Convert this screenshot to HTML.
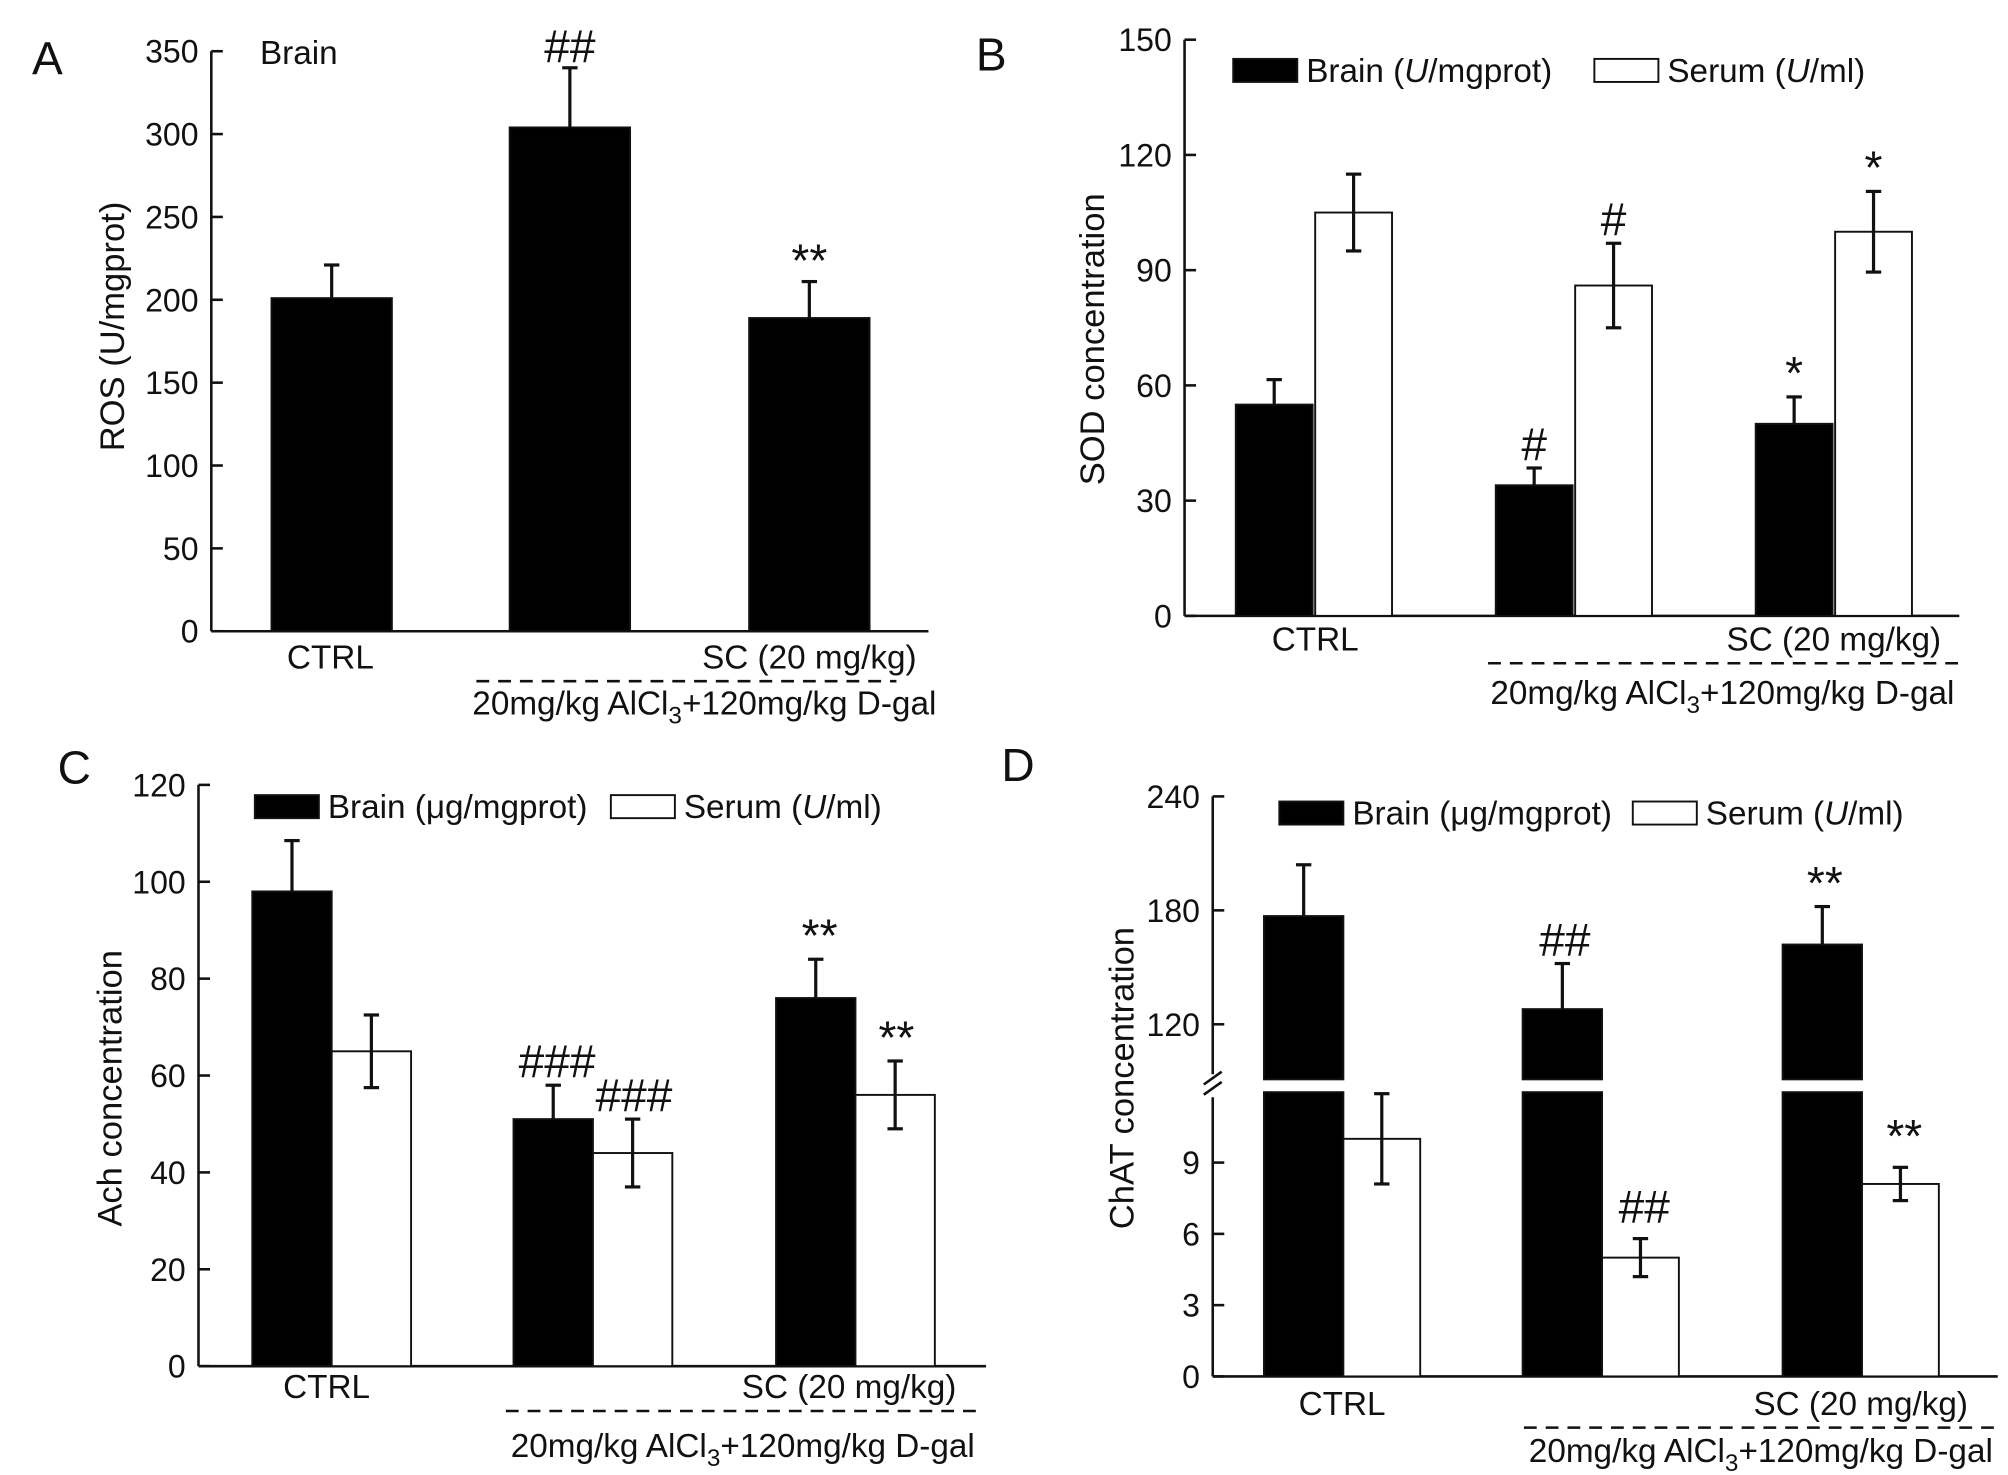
<!DOCTYPE html>
<html><head><meta charset="utf-8"><style>
html,body{margin:0;padding:0;background:#fff;}
svg{display:block;}
text{font-family:"Liberation Sans Narrow","Liberation Sans",sans-serif;fill:#111;}
</style></head><body>
<svg id="fig" width="2008" height="1475" viewBox="0 0 1568 1152" preserveAspectRatio="none" xmlns="http://www.w3.org/2000/svg"></svg>
<script>
const groups=["CTRL","Model","SC"];
// Panel A
const aBrain=[201,304,189];const aBrainErr=[20,36,22];const aMarks=["","##","**"];
const aTicks=[0,50,100,150,200,250,300,350];
// Panel B
const bBrain=[55,34,50];const bBrainErr=[6.5,4.5,7];
const bSerum=[105,86,100];const bSerumErr=[10,11,10.5];
const bBrainMarks=["","#","*"];const bSerumMarks=["","#","*"];
const bTicks=[0,30,60,90,120,150];
// Panel C
const cBrain=[98,51,76];const cBrainErr=[10.5,7,8];
const cSerum=[65,44,56];const cSerumErr=[7.5,7,7];
const cBrainMarks=["","###","**"];const cSerumMarks=["","###","**"];
const cTicks=[0,20,40,60,80,100,120];
// Panel D
const dBrain=[177,128,162];const dBrainErr=[27,24,20];
const dSerum=[10,5,8.1];const dSerumErr=[1.9,0.8,0.7];
const dBrainMarks=["","##","**"];const dSerumMarks=["","##","**"];
const dTicksUpper=[120,180,240];const dTicksLower=[0,3,6,9];

const svg=document.getElementById('fig');const NS="http://www.w3.org/2000/svg";
function mk(tag,attrs,parent){const e=document.createElementNS(NS,tag);for(const k in attrs)e.setAttribute(k,attrs[k]);(parent||svg).appendChild(e);return e;}
function txt(x,y,s,size,anchor,name,rot){const t=mk('text',{x:x,y:y,'font-size':size,'text-anchor':anchor||'start'});if(rot)t.setAttribute('transform','rotate(-90 '+x+' '+y+')');t.textContent=s;


return t;}
function line(x1,y1,x2,y2,name,dash,w){const l=mk('line',{x1:x1,y1:y1,x2:x2,y2:y2,stroke:'#111','stroke-width':w||2});if(dash)l.setAttribute('stroke-dasharray',dash);


return l;}
function bar(x,w,y0,y1,fill,name){const r=mk('rect',{x:x,y:Math.min(y0,y1),width:w,height:Math.abs(y0-y1),fill:fill,stroke:'#111','stroke-width':1.5});


return r;}
function err(cx,yv,ye,name,twoSided){const yl=twoSided?2*yv-ye:yv;line(cx,yl,cx,ye,name,null,2.5);line(cx-6,ye,cx+6,ye,name+'-cap',null,2.5);if(twoSided)line(cx-6,yl,cx+6,yl,name+'-cap-low',null,2.5);}
function yaxis(x,ytop,ybot,ticks,sc,name){line(x,ytop,x,ybot,name);ticks.forEach(t=>{const y=sc(t);line(x,y,x+9,y,name+'-tick');txt(x-10,y+9,String(t),25,'end',name+'-label');});}
function grpLabels(ctrlX,scX,dashX1,dashX2,yl,subX,ysub){txt(ctrlX,yl,'CTRL',26,'middle','ctrl-label');txt(scX,yl,'SC (20 mg/kg)',26,'middle','sc-label');
line(dashX1,yl+10,dashX2,yl+10,'group-bracket','10,7');
const t=txt(subX,ysub,'',26,'middle','model-label');t.innerHTML='20mg/kg AlCl<tspan dy="7" font-size="19">3</tspan><tspan dy="-7">+120mg/kg D-gal</tspan>';}
function legend(x1,x2,y,b,s){bar(x1,50,y-18,y,'#000','legend-brain-swatch');const t1=txt(x1+57,y,'',26,'start','legend-brain');t1.innerHTML=b;
bar(x2,50,y-18,y,'#fff','legend-serum-swatch');const t2=txt(x2+57,y,'',26,'start','legend-serum');t2.innerHTML=s;}

// ---- Panel A
(function(){const x0=165,y0=493,yt=40,max=350;const sc=v=>y0-(y0-yt)*v/max;
txt(25,58,'A',36,'start','panel-a-letter');
yaxis(x0,yt,y0,aTicks,sc,'a-y-axis');line(x0,y0,725,y0,'a-x-axis');
const xs=[212,398,585];
groups.forEach((g,i)=>{bar(xs[i],94,y0,sc(aBrain[i]),'#000','a-bar-'+g);err(xs[i]+47,sc(aBrain[i]),sc(aBrain[i]+aBrainErr[i]),'a-err-'+g,false);
if(aMarks[i])txt(xs[i]+47,sc(aBrain[i]+aBrainErr[i])-4,aMarks[i],36,'middle','a-sig-'+g);});
txt(203,50,'Brain',26,'start','a-title');
txt(97,255,'ROS (U/mgprot)',27,'middle','a-y-title',true);
grpLabels(258,632,372,700,522,550,558);})();

// ---- Panel B
(function(){const x0=925,y0=481,yt=31,max=150;const sc=v=>y0-(y0-yt)*v/max;
txt(762,55,'B',36,'start','panel-b-letter');
yaxis(x0,yt,y0,bTicks,sc,'b-y-axis');line(x0,y0,1530,y0,'b-x-axis');
const xs=[965,1168,1371];
groups.forEach((g,i)=>{const bx=xs[i],sx=xs[i]+62;
bar(bx,60,y0,sc(bBrain[i]),'#000','b-brain-bar-'+g);err(bx+30,sc(bBrain[i]),sc(bBrain[i]+bBrainErr[i]),'b-brain-err-'+g,false);
bar(sx,60,y0,sc(bSerum[i]),'#fff','b-serum-bar-'+g);err(sx+30,sc(bSerum[i]),sc(bSerum[i]+bSerumErr[i]),'b-serum-err-'+g,true);
if(bBrainMarks[i])txt(bx+30,sc(bBrain[i]+bBrainErr[i])-6,bBrainMarks[i],36,'middle','b-brain-sig-'+g);
if(bSerumMarks[i])txt(sx+30,sc(bSerum[i]+bSerumErr[i])-6,bSerumMarks[i],36,'middle','b-serum-sig-'+g);});
legend(963,1245,64,'Brain (<tspan font-style="italic">U</tspan>/mgprot)','Serum (<tspan font-style="italic">U</tspan>/ml)');
txt(862,265,'SOD concentration',27,'middle','b-y-title',true);
grpLabels(1027,1432,1162,1530,508,1345,550);})();

// ---- Panel C
(function(){const x0=155,y0=1067,yt=613,max=120;const sc=v=>y0-(y0-yt)*v/max;
txt(45,612,'C',36,'start','panel-c-letter');
yaxis(x0,yt,y0,cTicks,sc,'c-y-axis');line(x0,y0,770,y0,'c-x-axis');
const xs=[197,401,606];
groups.forEach((g,i)=>{const bx=xs[i],sx=xs[i]+62;
bar(bx,62,y0,sc(cBrain[i]),'#000','c-brain-bar-'+g);err(bx+31,sc(cBrain[i]),sc(cBrain[i]+cBrainErr[i]),'c-brain-err-'+g,false);
bar(sx,62,y0,sc(cSerum[i]),'#fff','c-serum-bar-'+g);err(sx+31,sc(cSerum[i]),sc(cSerum[i]+cSerumErr[i]),'c-serum-err-'+g,true);
if(cBrainMarks[i])txt(bx+34,sc(cBrain[i]+cBrainErr[i])-6,cBrainMarks[i],36,'middle','c-brain-sig-'+g);
if(cSerumMarks[i])txt(sx+32,sc(cSerum[i]+cSerumErr[i])-6,cSerumMarks[i],36,'middle','c-serum-sig-'+g);});
legend(199,477,639,'Brain (μg/mgprot)','Serum (<tspan font-style="italic">U</tspan>/ml)');
txt(95,850,'Ach concentration',27,'middle','c-y-title',true);
grpLabels(255,663,395,765,1092,580,1138);})();

// ---- Panel D (broken axis)
(function(){const x0=947,y0=1075;
const scL=v=>y0-(y0-908)*v/9;
const scU=v=>800-(800-622)*(v-120)/120;
const breakTop=843,breakBot=853;
txt(782,610,'D',36,'start','panel-d-letter');
line(x0,622,x0,breakTop-4,'d-y-axis-upper');line(x0,breakBot+4,x0,y0,'d-y-axis-lower');
line(x0-7,breakTop+4,x0+7,breakTop-6,'d-axis-break');line(x0-7,breakBot+2,x0+7,breakBot-8,'d-axis-break');
dTicksUpper.forEach(t=>{const y=scU(t);line(x0,y,x0+9,y,'d-tick');txt(x0-10,y+9,String(t),25,'end','d-tick-label');});
dTicksLower.forEach(t=>{const y=scL(t);line(x0,y,x0+9,y,'d-tick');txt(x0-10,y+9,String(t),25,'end','d-tick-label');});
line(x0,y0,1560,y0,'d-x-axis');
const xs=[987,1189,1392];
groups.forEach((g,i)=>{const bx=xs[i],sx=xs[i]+62;
bar(bx,62,breakTop,scU(dBrain[i]),'#000','d-brain-bar-upper-'+g);bar(bx,62,y0,breakBot,'#000','d-brain-bar-lower-'+g);
err(bx+31,scU(dBrain[i]),scU(dBrain[i]+dBrainErr[i]),'d-brain-err-'+g,false);
bar(sx,60,y0,scL(dSerum[i]),'#fff','d-serum-bar-'+g);err(sx+30,scL(dSerum[i]),scL(dSerum[i]+dSerumErr[i]),'d-serum-err-'+g,true);
if(dBrainMarks[i])txt(bx+33,scU(dBrain[i]+dBrainErr[i])-6,dBrainMarks[i],36,'middle','d-brain-sig-'+g);
if(dSerumMarks[i])txt(sx+33,scL(dSerum[i]+dSerumErr[i])-12,dSerumMarks[i],36,'middle','d-serum-sig-'+g);});
legend(999,1275,644,'Brain (μg/mgprot)','Serum (<tspan font-style="italic">U</tspan>/ml)');
txt(885,842,'ChAT concentration',27,'middle','d-y-title',true);
grpLabels(1048,1453,1190,1560,1105,1375,1142);})();
</script>
</body></html>
